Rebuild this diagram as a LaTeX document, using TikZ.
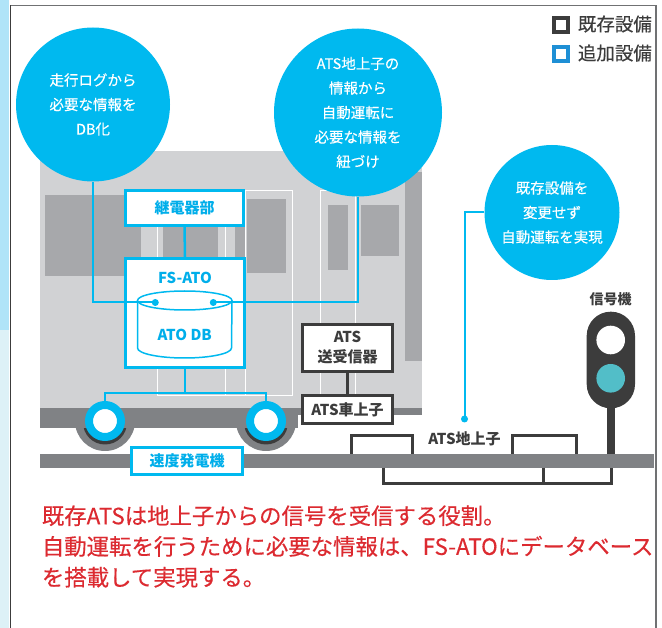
\documentclass[tikz,border=0pt]{standalone}
\usepackage{fontspec}
\setmainfont{Noto Sans CJK JP}
\newfontfamily\jp{Noto Sans CJK JP}
\newfontfamily\jpmid[FakeBold=0.35]{Noto Sans CJK JP}
\usetikzlibrary{calc}

\definecolor{cyanA}{HTML}{00B9EF}
\definecolor{cyanT}{HTML}{00AEEA}
\definecolor{bodyG}{HTML}{D1D2D4}
\definecolor{winG}{HTML}{A7A8AB}
\definecolor{underG}{HTML}{808285}
\definecolor{darkG}{HTML}{3C3C3C}
\definecolor{legBlue}{HTML}{1E8FD5}
\definecolor{redT}{HTML}{DC2A30}
\definecolor{lampT}{HTML}{52BEC8}
\definecolor{stripA}{HTML}{B0E4F8}
\definecolor{stripB}{HTML}{DDF1F7}
\definecolor{frameG}{HTML}{707173}

\pgfdeclarelayer{front}
\pgfsetlayers{main,front}

\tikzset{
  bubble/.style={circle, fill=cyanA, text=white, align=center, inner sep=0pt,
    font=\jpmid\fontsize{14.5}{24.5}\selectfont},
  newbox/.style={draw=cyanA, line width=3pt, fill=white, text=cyanT, inner sep=0pt,
    font=\jp\bfseries\fontsize{15}{18}\selectfont},
  oldbox/.style={draw=darkG, line width=3pt, fill=white, text=darkG, inner sep=0pt, align=center,
    font=\jp\bfseries\fontsize{15}{20}\selectfont},
  link/.style={draw=cyanA, line width=2pt},
  dotmark/.style={circle, fill=cyanA, inner sep=0pt, minimum size=7pt},
  wheel/.style={circle, draw=cyanA, line width=8pt, fill=white, minimum size=32pt, inner sep=0pt},
  ground/.style={draw=darkG, line width=3pt},
  legsq/.style={line width=4.5pt, fill=white, minimum size=14pt, inner sep=0pt},
  legtxt/.style={anchor=west, text=darkG, inner sep=0pt, font=\jpmid\fontsize{18.5}{20}\selectfont},
  note/.style={anchor=west, text=redT, inner sep=0pt, font=\jpmid\fontsize{22.4}{24}\selectfont}
}

\begin{document}
\begin{tikzpicture}[x=1pt, y=-1pt]
\useasboundingbox (0,0) rectangle (662,628);
\fill[white] (0,0) rectangle (662,628);

% side strip and frame
\fill[stripA] (0,0) rectangle (9,330);
\fill[stripB] (0,330) rectangle (9,628);
\draw[frameG, line width=1.5pt] (10.5,5.5) -- (656,5.5) -- (656,640);
\draw[darkG, line width=1.5pt] (10.5,5.5) -- (10.5,640);

% car body
\fill[bodyG] (40,151) rectangle (422,408);
\fill[winG] (405,172) rectangle (422,361);
\fill[winG] (45,195) rectangle (141,276);
\fill[winG] (163,199) rectangle (218,273);
\fill[winG] (235,195) rectangle (245,276);
\fill[winG] (246.7,199) rectangle (286,273);
\fill[winG] (328,205) rectangle (348,270);
\fill[winG] (361,205) rectangle (399,255.7);
\draw[white, line width=1pt] (157,396) -- (157,191) -- (225,191) -- (225,396);
\draw[white, line width=1pt] (245,396) -- (245,191) -- (292.7,191) -- (292.7,396);
\draw[white, line width=1pt] (157,396) -- (292.7,396);
\draw[white, line width=1pt] (320.7,408) -- (320.7,191) -- (355,191) -- (355,408);

% underframe and bogies
\begin{scope}
  \clip (0,421) rectangle (662,460);
  \fill[underG] (105,421) circle (30pt);
  \fill[underG] (266,421) circle (30pt);
  \fill[darkG] (105,422.5) circle (22pt);
  \fill[darkG] (266,422.5) circle (22pt);
\end{scope}
\fill[underG] (40,408) rectangle (298,428);
\fill[underG] (298,408) rectangle (422,415);

% signal
\fill[darkG] (606.7,400) rectangle (614.7,454);
\fill[darkG, rounded corners=24pt] (586.7,311.7) rectangle (635,408.3);
\fill[white] (610.7,340) circle (14.3pt);
\fill[lampT] (610.7,378.3) circle (14.3pt);
\node[text=darkG, font=\jp\bfseries\fontsize{14}{16}\selectfont] (sigl) at (610.7,299.3) {信号機};

% rail and ground coil
\fill[underG] (40,454) rectangle (654,468);
\draw[ground] (351,454) -- (351,435.7) -- (412.7,435.7) -- (412.7,454);
\draw[ground] (512.7,454) -- (512.7,435.7) -- (576,435.7) -- (576,454);
\draw[ground] (383,468) -- (383,484) -- (611,484) -- (611,468);
\draw[ground] (543.7,468) -- (543.7,484);
\node[text=darkG, font=\jp\bfseries\fontsize{15}{18}\selectfont] (gcoil) at (464.5,439) {ATS地上子};
\node[dotmark] (gdot) at (464.5,419) {};

% equipment boxes
\node[newbox, minimum width=118pt, minimum height=34.4pt] (relay) at (184.5,208) {継電器部};
\node[newbox, minimum width=119pt, minimum height=109pt] (fsato) at (185,313) {};
\node[text=cyanT, font=\jp\bfseries\fontsize{15}{18}\selectfont] (fsatoT) at (185,278) {FS-ATO};
\draw[cyanA, line width=1.5pt, fill=white]
  (137.5,300.5) -- (137.5,348) arc[start angle=180, end angle=0, x radius=47pt, y radius=-10pt]
  -- (232,300.5);
\draw[cyanA, line width=1.5pt, fill=white] (184.75,300.5) ellipse (47.25pt and 9.5pt);
\node[text=cyanT, font=\jp\bfseries\fontsize{15}{18}\selectfont] (dbT) at (184.75,334.7) {ATO DB};
\node[dotmark] (dbL) at (155.3,302.5) {};
\node[dotmark] (dbR) at (213.3,302.5) {};
\node[newbox, minimum width=111.3pt, minimum height=27.6pt] (speed) at (187.2,461) {速度発電機};

\node[oldbox, minimum width=90pt, minimum height=47.6pt] (trx) at (347.5,348) {ATS\\送受信器};
\node[oldbox, minimum width=90pt, minimum height=27.7pt] (tcar) at (347.5,409.7) {ATS車上子};
\draw[darkG, line width=3pt] (trx.south) -- (tcar.north);

% wheels and the speed-signal bus
\node[wheel] (w1) at (105,421) {};
\node[wheel] (w2) at (266,421) {};
\coordinate (bus) at (185,393);
\draw[link, line width=2.5pt] (relay.south) -- (fsato.north);
\draw[link, line width=2.5pt] (fsato.south) -- (bus);
\draw[link, line width=2.5pt] (w1.north) |- (bus) -| (w2.north);

% bubbles on top, leaders underneath
\begin{pgfonlayer}{front}
\node[bubble, minimum size=154pt] (c1) at (93,104.5) {走行ログから\\必要な情報を\\DB化};
\node[bubble, minimum size=168pt] (c2) at (358,112.5) {ATS地上子の\\情報から\\自動運転に\\必要な情報を\\紐づけ};
\node[bubble, minimum size=135pt] (c3) at (552,212.5) {既存設備を\\変更せず\\自動運転を実現};
\end{pgfonlayer}
\draw[link] (dbL.center) -| (c1.south);
\draw[link] (dbR.center) -| (c2.south);
\draw[link] (c3.west) -| (gdot.center);

% legend
\node[legsq, draw=darkG] (lg1) at (561,25) {};
\node[legtxt] (lt1) at (577.7,24) {既存設備};
\node[legsq, draw=legBlue] (lg2) at (561,53.8) {};
\node[legtxt] (lt2) at (577.7,53) {追加設備};

% notes
\node[note] (n1) at (41.7,515.7) {既存ATSは地上子からの信号を受信する役割。};
\node[note] (n2) at (41.7,546.3) {自動運転を行うために必要な情報は、FS-ATOにデータベース};
\node[note] (n3) at (41.7,577.3) {を搭載して実現する。};
\end{tikzpicture}
\end{document}
